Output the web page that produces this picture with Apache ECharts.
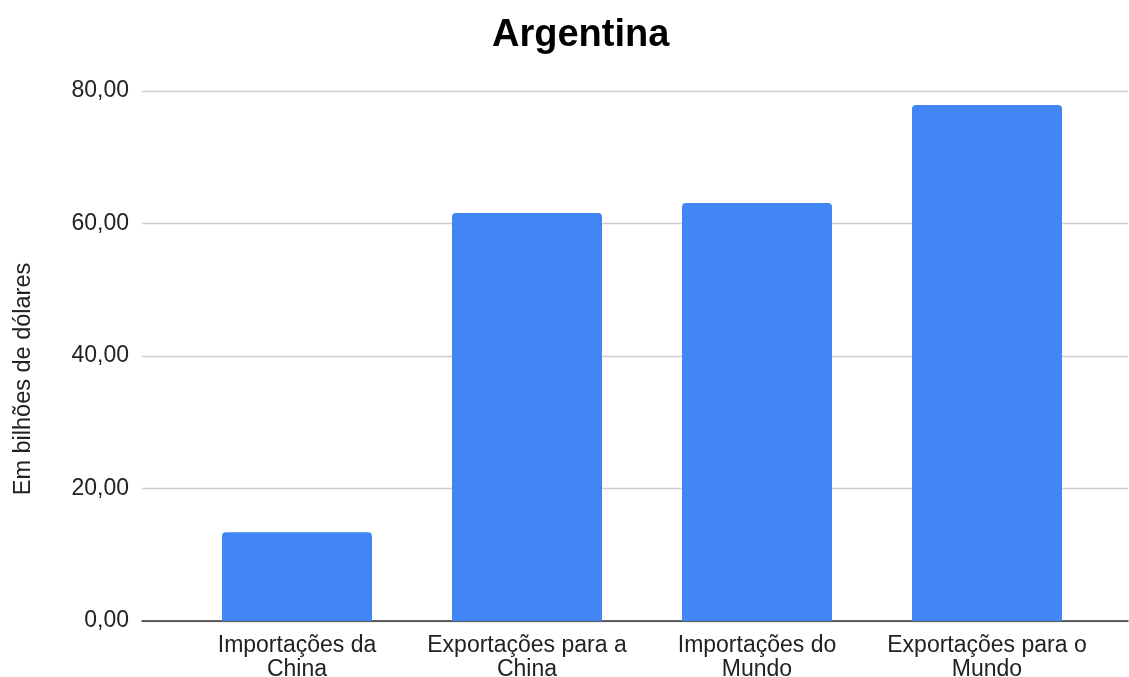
<!DOCTYPE html>
<html>
<head>
<meta charset="utf-8">
<script src="https://cdn.jsdelivr.net/npm/echarts@6/dist/echarts.min.js"></script>
<style>
  html, body { margin: 0; padding: 0; background: #fff; }
  #chart { width: 1129px; height: 677px; }
</style>
</head>
<body>
<div id="chart"></div>
<script>
// Argentina trade figures, in billions of dollars
const chartTitle = 'Argentina';
const yAxisTitle = 'Em bilhões de dólares';
const categories = [
  'Importações da\nChina',
  'Exportações para a\nChina',
  'Importações do\nMundo',
  'Exportações para o\nMundo'
];
const values = [13.4, 61.6, 63.1, 77.9];
const yMin = 0;
const yMax = 80;
const yStep = 20;

const chart = echarts.init(document.getElementById('chart'));
const font = '"Liberation Sans", Arial, sans-serif';

chart.setOption({
  animation: false,
  title: {
    text: chartTitle,
    left: 487,
    top: 12,
    textStyle: { fontFamily: font, fontSize: 38, fontWeight: 'bold', color: '#000' }
  },
  graphic: [{
    type: 'text',
    x: 24, y: 379,
    rotation: Math.PI / 2,
    style: {
      text: yAxisTitle,
      fontFamily: font, fontSize: 23.5, fill: '#222',
      align: 'center', verticalAlign: 'middle'
    }
  }],
  grid: [
    // background grid: gridlines, y labels and baseline
    { left: 142, right: 1, top: 91, bottom: 56, containLabel: false, outerBoundsMode: 'none' },
    // bar area
    { left: 182, right: 27, top: 91, bottom: 56, containLabel: false, outerBoundsMode: 'none' }
  ],
  xAxis: [
    {
      gridIndex: 0, type: 'value', min: 0, max: 1,
      axisLabel: { show: false }, axisTick: { show: false },
      splitLine: { show: false },
      axisLine: { show: true, onZero: false, lineStyle: { color: '#333', width: 1.5 } }
    },
    {
      gridIndex: 1, type: 'category', data: categories,
      axisLine: { show: false }, axisTick: { show: false },
      axisLabel: {
        interval: 0, margin: 13, color: '#222', fontFamily: font, fontSize: 23,
        lineHeight: 24
      }
    }
  ],
  yAxis: [
    {
      gridIndex: 0, type: 'value', min: yMin, max: yMax, interval: yStep,
      axisLine: { show: false }, axisTick: { show: false },
      axisLabel: {
        margin: 13, color: '#222', fontFamily: font, fontSize: 23,
        padding: [4, 0, 0, 0],
        formatter: v => v.toFixed(2).replace('.', ',')
      },
      splitLine: { lineStyle: { color: '#ccc', width: 1.3 } }
    },
    {
      gridIndex: 1, type: 'value', min: yMin, max: yMax, interval: yStep,
      axisLine: { show: false }, axisTick: { show: false },
      axisLabel: { show: false }, splitLine: { show: false }
    }
  ],
  series: [{
    type: 'bar',
    xAxisIndex: 1, yAxisIndex: 1,
    data: values,
    barWidth: 150,
    itemStyle: { color: '#4285F4', borderRadius: [4, 4, 0, 0] }
  }]
});
</script>
</body>
</html>
